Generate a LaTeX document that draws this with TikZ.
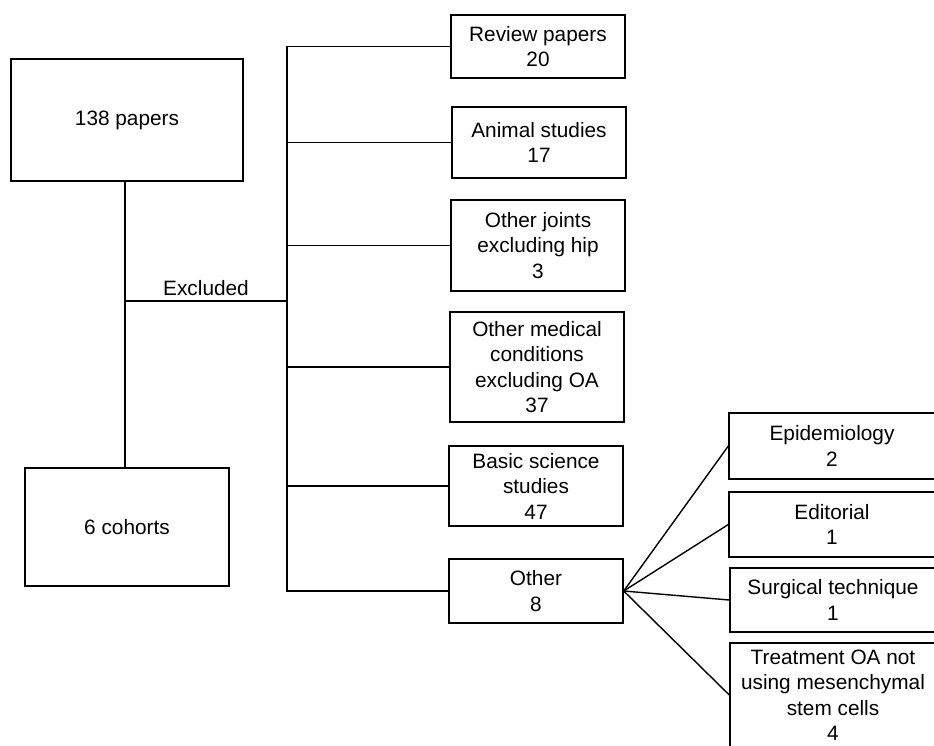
\documentclass[tikz,border=0pt]{standalone}
\usepackage{fontspec}
\setmainfont{Liberation Sans}
\usetikzlibrary{positioning}

\begin{document}
\begin{tikzpicture}[
    x=1pt, y=-1pt,
    line width=1.4pt,
    every node/.style={font=\fontsize{20.8}{25.5}\selectfont, align=center, inner sep=0pt},
    box/.style={draw, minimum width=174pt},
    subbox/.style={draw, minimum width=220pt}
]
\useasboundingbox (0,0) rectangle (934,746);
\clip (0,0) rectangle (934,746);

% Hauptkaesten
\node[draw, minimum width=232pt, minimum height=122pt] (papers) at (127,120) {138 papers};
\node[draw, minimum width=204pt, minimum height=118pt] (cohorts) at (127,527) {6 cohorts};

% Ausgeschlossen
\node[box, minimum height=63pt]  (review)  at (538,46.5) {Review papers\\20};
\node[box, minimum height=71pt]  (animal)  at (539,142.5) {Animal studies\\17};
\node[box, minimum height=91pt]  (joints)  at (538,245.5) {Other joints\\excluding hip\\3};
\node[box, minimum height=110pt] (medical) at (537,367) {Other medical\\conditions\\excluding OA\\37};
\node[box, minimum height=80pt]  (basic)   at (536,486) {Basic science\\studies\\47};
\node[box, minimum height=64pt]  (other)   at (536,591) {Other\\8};

% Sonstige
\node[subbox, minimum height=66pt]  (epid)  at (839,446) {\hspace*{-14pt}Epidemiology\\\hspace*{-14pt}2};
\node[subbox, minimum height=65pt]  (edit)  at (839,524.5) {\hspace*{-14pt}Editorial\\\hspace*{-14pt}1};
\node[subbox, minimum height=64pt]  (surg)  at (840,600) {\hspace*{-14pt}Surgical technique\\\hspace*{-14pt}1};
\node[subbox, minimum height=104pt] (treat) at (840,695) {\hspace*{-14pt}Treatment OA not\\\hspace*{-14pt}using mesenchymal\\\hspace*{-14pt}stem cells\\\hspace*{-14pt}4};

\coordinate (ex) at (125,301);
\coordinate (trunk) at (287,301);

\draw (papers.south -| ex) -- (cohorts.north -| ex);
\draw (ex) -- node[above=5pt] {Excluded} (trunk);
\draw (review.west) -| (other.west -| trunk) -- (other.west);
\foreach \n in {animal, joints, medical, basic}
    \draw (\n.west -| trunk) -- (\n.west);
\foreach \n in {epid, edit, surg, treat}
    \draw (other.east) -- (\n.west);

\end{tikzpicture}
\end{document}
